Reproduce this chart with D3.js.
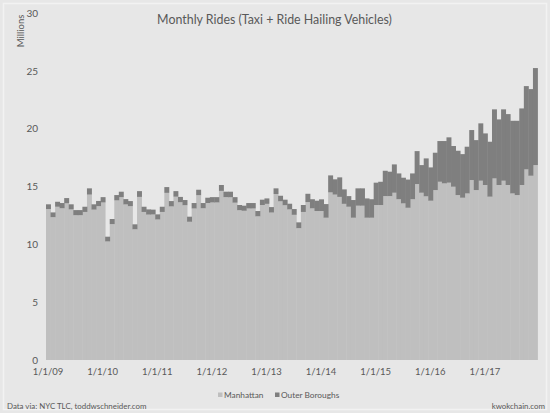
<!DOCTYPE html>
<html>
<head>
<meta charset="utf-8">
<script src="https://cdn.jsdelivr.net/npm/d3@7"></script>
<style>
  html, body { margin: 0; padding: 0; background: #e7e7e7; }
  svg text { font-family: Lato, "Open Sans", sans-serif; fill: #595959; }
</style>
</head>
<body>
<div id="chart"></div>
<script>
// Monthly rides, Jan 2009 - Dec 2017 (millions)
const startMonth = new Date(2009, 0, 1);
const yearLabels = ['1/1/09', '1/1/10', '1/1/11', '1/1/12', '1/1/13', '1/1/14', '1/1/15', '1/1/16', '1/1/17'];
const yTicks = [0, 5, 10, 15, 20, 25, 30];

const manhattan = [
    13.05, 12.35, 13.25, 13.12, 13.55, 13.02, 12.52, 12.52, 12.8, 14.3, 13.0, 13.3,
    13.62, 10.25, 11.75, 13.8, 14.08, 13.45, 13.3, 11.3, 14.1, 12.8, 12.57, 12.58,
    12.15, 12.8, 14.45, 13.28, 14.12, 13.64, 13.38, 11.95, 13.1, 14.25, 13.12, 13.57,
    13.62, 13.62, 14.62, 14.08, 14.07, 13.6, 12.95, 12.9, 13.1, 13.1, 12.42, 13.4,
    13.5, 12.75, 14.35, 13.72, 13.38, 13.02, 12.55, 11.4, 12.8, 13.65, 13.11, 12.88,
    12.88, 12.3, 14.49, 14.3, 14.1, 13.5, 13.25, 12.3, 13.34, 13.34, 12.3, 12.3,
    13.4, 13.4, 14.17, 14.17, 14.46, 13.9, 13.54, 13.16, 13.9, 15.21, 14.46, 14.15,
    13.77, 14.69, 15.41, 15.27, 15.33, 14.98, 14.26, 14.03, 14.4, 15.56, 14.69, 15.5,
    15.13, 14.12, 15.7, 15.13, 15.5, 15.13, 14.4, 14.26, 15.13, 16.48, 15.93, 16.85
];

const outerBoroughs = [
    0.41, 0.41, 0.43, 0.45, 0.45, 0.44, 0.44, 0.44, 0.45, 0.54, 0.46, 0.45,
    0.46, 0.41, 0.44, 0.46, 0.47, 0.46, 0.44, 0.43, 0.5, 0.45, 0.45, 0.42,
    0.44, 0.45, 0.5, 0.46, 0.48, 0.46, 0.45, 0.44, 0.47, 0.47, 0.45, 0.46,
    0.46, 0.46, 0.51, 0.47, 0.48, 0.48, 0.45, 0.44, 0.47, 0.47, 0.46, 0.46,
    0.47, 0.47, 0.49, 0.48, 0.48, 0.49, 0.5, 0.5, 0.6, 0.72, 0.79, 0.89,
    1.01, 1.18, 1.47, 1.32, 1.69, 1.25, 0.92, 1.53, 1.5, 1.5, 1.67, 1.6,
    1.93, 2.01, 2.19, 2.11, 2.45, 2.23, 2.22, 2.44, 2.23, 2.85, 2.39, 3.28,
    2.88, 3.23, 3.52, 3.66, 3.92, 3.52, 3.83, 3.77, 4.04, 4.32, 4.32, 4.96,
    4.46, 4.75, 5.97, 5.67, 6.17, 6.13, 6.28, 6.42, 6.62, 7.2, 7.49, 8.39
];

const series = ['Manhattan', 'Outer Boroughs'];
const colors = ['#bfbfbf', '#7f7f7f'];

const W = 550, H = 413;
const svg = d3.select('#chart').append('svg')
    .attr('width', W)
    .attr('height', H);

// chart area background with a faint border
svg.append('rect')
    .attr('x', 3.5).attr('y', 3.5)
    .attr('width', W - 7).attr('height', H - 7)
    .attr('fill', '#e7e7e7')
    .attr('stroke', '#f2f2f2')
    .attr('stroke-width', 1.5);

const rows = manhattan.map((m, i) => ({
    i: i,
    date: d3.timeMonth.offset(startMonth, i),
    Manhattan: m,
    'Outer Boroughs': outerBoroughs[i]
}));

const stacked = d3.stack().keys(series)(rows);

// month index -> horizontal position
const x = d3.scaleLinear()
    .domain([0, manhattan.length])
    .range([46, 537.5]);

const y = d3.scaleLinear()
    .domain([0, 30])
    .range([360, 13]);

// bars (no gaps, step look)
svg.append('g').selectAll('g')
    .data(stacked)
    .join('g')
    .attr('fill', (d, k) => colors[k])
    .selectAll('rect')
    .data(d => d)
    .join('rect')
    .attr('x', d => x(d.data.i))
    .attr('width', d => x(d.data.i + 1) - x(d.data.i) + 0.4)
    .attr('y', d => y(d[1]))
    .attr('height', d => y(d[0]) - y(d[1]));

// y axis
const yAxis = svg.append('g')
    .attr('transform', 'translate(40,0)')
    .call(d3.axisLeft(y).tickValues(yTicks).tickSize(0).tickPadding(2));
yAxis.select('.domain').remove();
yAxis.selectAll('text')
    .style('font-size', '10px')
    .style('fill', '#595959');

// x axis, labels at each January
const xAxis = svg.append('g')
    .attr('transform', 'translate(1.5,361)')
    .call(d3.axisBottom(x)
        .tickValues(yearLabels.map((d, k) => k * 12))
        .tickFormat((d, k) => yearLabels[k])
        .tickSize(0)
        .tickPadding(7));
xAxis.select('.domain').remove();
xAxis.selectAll('text')
    .style('font-size', '9.5px')
    .style('fill', '#595959');

// title
svg.append('text')
    .attr('x', 274.5)
    .attr('y', 23.5)
    .attr('text-anchor', 'middle')
    .style('font-size', '12.4px')
    .text('Monthly Rides (Taxi + Ride Hailing Vehicles)');

// y axis title
svg.append('text')
    .attr('transform', 'translate(24,31) rotate(-90)')
    .attr('text-anchor', 'middle')
    .style('font-size', '9.5px')
    .text('Millions');

// legend
const legend = svg.append('g')
    .attr('transform', 'translate(218,398)');
const legendOffsets = [0, 57];
series.forEach((s, k) => {
    const g = legend.append('g').attr('transform', `translate(${legendOffsets[k]},0)`);
    g.append('rect')
        .attr('x', 0).attr('y', -5.5)
        .attr('width', 4.5).attr('height', 4.5)
        .attr('fill', colors[k]);
    g.append('text')
        .attr('x', 6).attr('y', 0)
        .style('font-size', '8.3px')
        .text(s);
});

// footer notes
svg.append('text')
    .attr('x', 7).attr('y', 409)
    .style('font-size', '7.9px')
    .text('Data via: NYC TLC, toddwschneider.com');

svg.append('text')
    .attr('x', 545).attr('y', 409)
    .attr('text-anchor', 'end')
    .style('font-size', '7.9px')
    .text('kwokchain.com');
</script>
</body>
</html>
